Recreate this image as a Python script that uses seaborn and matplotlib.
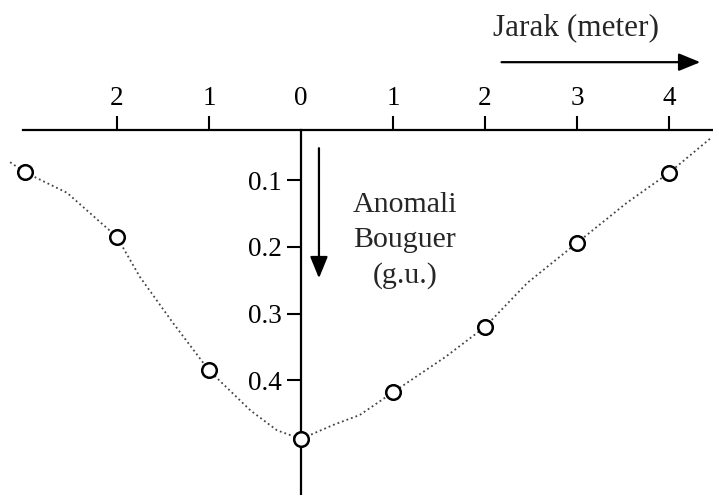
import matplotlib
matplotlib.use('Agg')
import matplotlib.pyplot as plt
import seaborn as sns

# measured points (distance in metres, left of origin negative)
distance = [-3, -2, -1, 0, 1, 2, 3, 4]
anomaly = [0.088, 0.185, 0.385, 0.488, 0.418, 0.320, 0.194, 0.089]

# the dotted trend curve (runs past the end points)
curve_x = [-3.16, -3, -2.54, -2, -1.75, -1.39, -1, -0.55, -0.26, 0,
           0.35, 0.64, 1, 1.57, 2, 2.46, 3, 3.54, 4, 4.47]
curve_y = [0.073, 0.088, 0.119, 0.185, 0.245, 0.314, 0.385, 0.445, 0.475, 0.488,
           0.467, 0.452, 0.418, 0.365, 0.320, 0.254, 0.194, 0.134, 0.089, 0.035]

x_ticks = [-2, -1, 0, 1, 2, 3, 4]
x_labels = ['2', '1', '0', '1', '2', '3', '4']
y_ticks = [0.1, 0.2, 0.3, 0.4]
y_labels = ['0.1', '0.2', '0.3', '0.4']

sns.set_theme(style='white')
plt.rcParams['font.family'] = ['Liberation Serif', 'DejaVu Serif']

fig = plt.figure(figsize=(7.13, 4.95), dpi=100)
ax = fig.add_axes([0, 0, 1, 1 - 130 / 495])

sns.lineplot(x=curve_x, y=curve_y, sort=False, ax=ax, color='#444444',
             linestyle=':', linewidth=1.3, zorder=2)
sns.scatterplot(x=distance, y=anomaly, ax=ax, marker='o', s=110,
                facecolor='white', edgecolor='black', linewidth=1.8, zorder=3)

ax.set_xlim(-3.27, 4.478)
ax.set_ylim(0.572, 0.0247)

# axes: x axis along the top, y axis through the origin
for side in ['bottom', 'right']:
    ax.spines[side].set_visible(False)
ax.spines['top'].set_bounds(-3.02, 4.478)
ax.spines['left'].set_position(('data', 0))
for side in ['top', 'left']:
    ax.spines[side].set_linewidth(1.6)
    ax.spines[side].set_color('black')

ax.xaxis.tick_top()
ax.set_xticks(x_ticks)
ax.set_xticklabels(x_labels)
ax.yaxis.tick_left()
ax.set_yticks(y_ticks)
ax.set_yticklabels(y_labels)
ax.tick_params(axis='both', direction='out', length=10, width=1.5,
               color='black', labelsize=19.5, labelcolor='black', pad=4)
ax.xaxis.get_major_ticks()[2].tick2line.set_visible(False)
ax.set_xlabel('')
ax.set_ylabel('')

# axis captions with arrows
ax.text(2.99, -0.128, 'Jarak (meter)', fontsize=22.5, ha='center', va='center')
ax.annotate('', xy=(4.34, -0.077), xytext=(2.18, -0.077), annotation_clip=False,
            arrowprops=dict(arrowstyle='-|>,head_length=1.1,head_width=0.45',
                            color='black', lw=1.6, shrinkA=0, shrinkB=0))
ax.annotate('', xy=(0.196, 0.247), xytext=(0.196, 0.052), annotation_clip=False,
            arrowprops=dict(arrowstyle='-|>,head_length=1.1,head_width=0.45',
                            color='black', lw=1.6, shrinkA=0, shrinkB=0))
ax.text(1.13, 0.19, 'Anomali\nBouguer\n(g.u.)', fontsize=21.5, ha='center',
        va='center', linespacing=1.45)

plt.savefig('out.png', dpi=100)
